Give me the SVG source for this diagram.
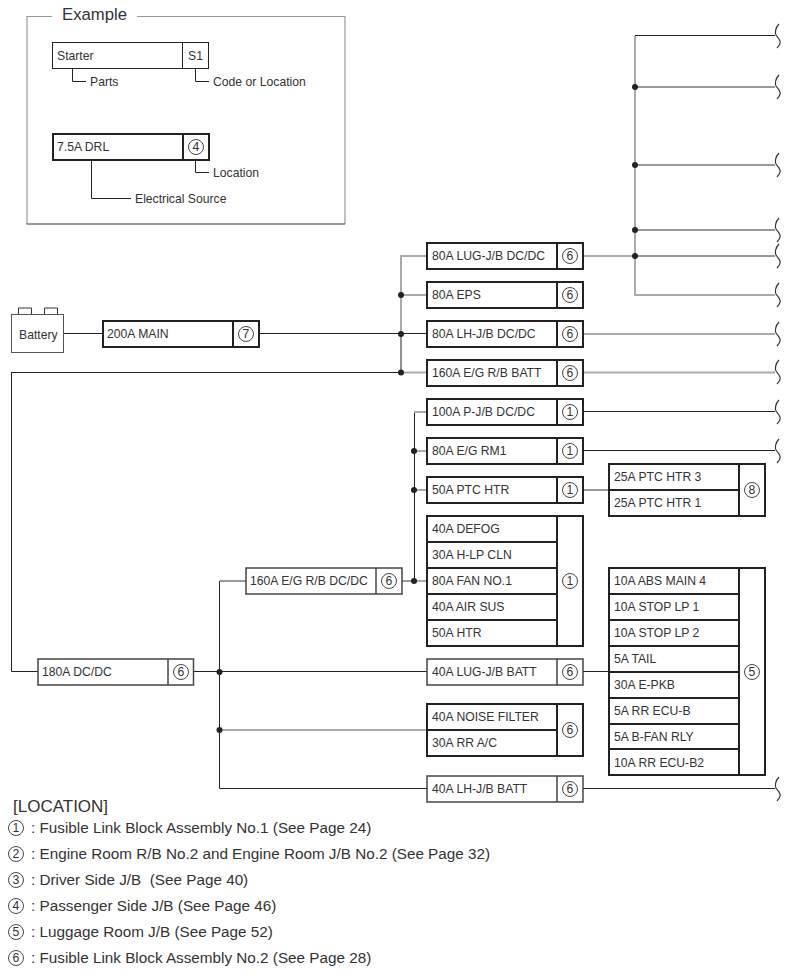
<svg xmlns="http://www.w3.org/2000/svg" width="790" height="976" viewBox="0 0 790 976">
<style>
text{font-family:"Liberation Sans",Arial,sans-serif;font-size:12.2px;fill:#333}
.big{font-size:16.7px}
.leg{font-size:15.27px}
.c{text-anchor:middle}
.b{fill:#fff;stroke:#222;stroke-width:2}
.g{fill:#fff;stroke:#444;stroke-width:1.500}
.dv{stroke:#222;stroke-width:2;fill:none}
.dg{stroke:#444;stroke-width:1.500;fill:none}
.l{fill:none;stroke:#222;stroke-width:1}
.lg{fill:none;stroke:#aaa;stroke-width:2}
.lm{fill:none;stroke:#777;stroke-width:1.500}
.ci{fill:none;stroke:#333;stroke-width:.9}
.w{fill:none;stroke:#333;stroke-width:1.200}
</style>
<defs>
<path id="brk" class="w" d="M2-12C-2-8-2-3-1-1C1 2 4 4 3 7C3 9 1 11 0 12"/>
<circle id="d" r="3" fill="#222"/>
<circle id="o" r="7.500" class="ci"/>
</defs>
<g id="example">
<path d="M52 16.500H27V224M137 16.500H345V224" fill="none" stroke="#999" stroke-width="1.200"/>
<path d="M26.500 224H345" fill="none" stroke="#333" stroke-width="1"/>
<text x="62" y="20" class="big">Example</text>
<rect x="52.500" y="42.500" width="156" height="26" fill="#fff" stroke="#222"/>
<path d="M182.500 42V68" class="l"/>
<text x="57" y="60">Starter</text><text x="188" y="60">S1</text>
<path d="M72.500 68V81.500H86M195.500 68V81.500H209" class="l"/>
<text x="90" y="86">Parts</text><text x="213" y="86">Code or Location</text>
<rect x="53" y="134" width="156" height="26" class="b"/>
<path d="M183 134V160" class="dv"/>
<text x="57" y="151">7.5A DRL</text>
<use href="#o" x="196" y="147"/><text x="196" y="151" class="c">4</text>
<path d="M195.500 160V172.500H209M91.500 160V198.500H131" class="l"/>
<text x="213" y="177">Location</text><text x="135" y="203">Electrical Source</text>
</g>
<g id="connectors">
<path class="l" d="M64 333.500H103M259 333.500H427M11 372.500H401M401 333.500V372.500"/>
<path class="lg" d="M427 256H401V334M401 295H427M401 372.500H427M583 256H635M635 36V295H775M583 334H775M583 372.500H775M219 730H427"/>
<path class="lm" d="M635 87H775M635 165H775M635 230H775M635 256H775M583 490H609M220 581H246M402 581H414"/>
<path class="l" d="M635 35.500H775M583 411.500H775M583 450.500H775M194 671.500H427M583 671.500H609M219.500 581V788.500H427M583 788.500H775"/>
<path class="l" d="M11.500 372.500V671.500H38M414.500 412V581"/>
<path class="lg" d="M414 412H427M414 451H427M414 490H427M414 581H427"/>
<use href="#d" x="635" y="87"/><use href="#d" x="635" y="165"/><use href="#d" x="635" y="230"/><use href="#d" x="635" y="256"/>
<use href="#d" x="401" y="295"/><use href="#d" x="401" y="334"/><use href="#d" x="401" y="372.500"/>
<use href="#d" x="414" y="451"/><use href="#d" x="414" y="490"/><use href="#d" x="414" y="581"/>
<use href="#d" x="219.500" y="672"/><use href="#d" x="219.500" y="730"/>
<use href="#brk" x="777" y="36"/><use href="#brk" x="777" y="87"/><use href="#brk" x="777" y="165"/><use href="#brk" x="777" y="230"/><use href="#brk" x="777" y="256"/><use href="#brk" x="777" y="295"/><use href="#brk" x="777" y="334"/><use href="#brk" x="777" y="372"/><use href="#brk" x="777" y="412"/><use href="#brk" x="777" y="451"/><use href="#brk" x="777" y="789"/>
</g>
<g id="battery">
<path d="M18.500 314V308H31.500V314M44.500 314V308H57.500V314" fill="#fff" stroke="#333"/>
<rect x="11.500" y="314.500" width="52" height="38" fill="#fff" stroke="#555"/>
<text x="19" y="339">Battery</text>
</g>
<g id="main"><rect x="103" y="321" width="156" height="26" class="b"/><path d="M233 321V347" class="dv"/><text x="107" y="338">200A MAIN</text><use href="#o" x="246" y="334"/><text x="246" y="338" class="c">7</text></g>
<g id="lug-dc"><rect x="427" y="243" width="156" height="26" class="b"/><path d="M557 243V269" class="dv"/><text x="432" y="260">80A LUG-J/B DC/DC</text><use href="#o" x="570" y="256"/><text x="570" y="260" class="c">6</text></g>
<g id="eps"><rect x="427" y="282" width="156" height="26" class="b"/><path d="M557 282V308" class="dv"/><text x="432" y="299">80A EPS</text><use href="#o" x="570" y="295"/><text x="570" y="299" class="c">6</text></g>
<g id="lh-dc"><rect x="427" y="321" width="156" height="26" class="b"/><path d="M557 321V347" class="dv"/><text x="432" y="338">80A LH-J/B DC/DC</text><use href="#o" x="570" y="334"/><text x="570" y="338" class="c">6</text></g>
<g id="eg-batt"><rect x="427" y="360" width="156" height="26" class="b"/><path d="M557 360V386" class="dv"/><text x="432" y="377">160A E/G R/B BATT</text><use href="#o" x="570" y="373"/><text x="570" y="377" class="c">6</text></g>
<g id="pjb"><rect x="427" y="399" width="156" height="26" class="b"/><path d="M557 399V425" class="dv"/><text x="432" y="416">100A P-J/B DC/DC</text><use href="#o" x="570" y="412"/><text x="570" y="416" class="c">1</text></g>
<g id="rm1"><rect x="427" y="438" width="156" height="26" class="b"/><path d="M557 438V464" class="dv"/><text x="432" y="455">80A E/G RM1</text><use href="#o" x="570" y="451"/><text x="570" y="455" class="c">1</text></g>
<g id="ptc"><rect x="427" y="477" width="156" height="26" class="b"/><path d="M557 477V503" class="dv"/><text x="432" y="494">50A PTC HTR</text><use href="#o" x="570" y="490"/><text x="570" y="494" class="c">1</text></g>
<g id="ptc-8"><rect x="609" y="464" width="156" height="52" class="b"/><path d="M739 464V516M609 490H739" class="dv"/><text x="614" y="481">25A PTC HTR 3</text><text x="614" y="507">25A PTC HTR 1</text><use href="#o" x="752" y="490"/><text x="752" y="494" class="c">8</text></g>
<g id="group-1"><rect x="427" y="516" width="156" height="130" class="b"/><path d="M557 516V646M427 542H557M427 568H557M427 594H557M427 620H557" class="dv"/><text x="432" y="533">40A DEFOG</text><text x="432" y="559">30A H-LP CLN</text><text x="432" y="585">80A FAN NO.1</text><text x="432" y="611">40A AIR SUS</text><text x="432" y="637">50A HTR</text><use href="#o" x="570" y="581"/><text x="570" y="585" class="c">1</text></g>
<g id="group-5"><rect x="609" y="568" width="156" height="207" class="b"/><path d="M739 568V775M609 594H739M609 620H739M609 646H739M609 672H739M609 698H739M609 724H739M609 749H739" class="dv"/><text x="614" y="585">10A ABS MAIN 4</text><text x="614" y="611">10A STOP LP 1</text><text x="614" y="637">10A STOP LP 2</text><text x="614" y="663">5A TAIL</text><text x="614" y="689">30A E-PKB</text><text x="614" y="715">5A RR ECU-B</text><text x="614" y="741">5A B-FAN RLY</text><text x="614" y="767">10A RR ECU-B2</text><use href="#o" x="752" y="672"/><text x="752" y="676" class="c">5</text></g>
<g id="eg-dc"><rect x="246" y="568" width="156" height="26" class="g"/><path d="M376 568V594" class="dg"/><text x="250" y="585">160A E/G R/B DC/DC</text><use href="#o" x="389" y="581"/><text x="389" y="585" class="c">6</text></g>
<g id="dcdc"><rect x="38" y="659" width="155.500" height="26" class="g"/><path d="M168 659V685" class="dg"/><text x="42" y="676">180A DC/DC</text><use href="#o" x="181" y="672"/><text x="181" y="676" class="c">6</text></g>
<g id="lug-batt"><rect x="427" y="659" width="156" height="26" class="g"/><path d="M557 659V685" class="dg"/><text x="432" y="676">40A LUG-J/B BATT</text><use href="#o" x="570" y="672"/><text x="570" y="676" class="c">6</text></g>
<g id="noise"><rect x="427" y="704" width="156" height="52" class="b"/><path d="M557 704V756M427 730H557" class="dv"/><text x="432" y="721">40A NOISE FILTER</text><text x="432" y="747">30A RR A/C</text><use href="#o" x="570" y="730"/><text x="570" y="734" class="c">6</text></g>
<g id="lh-batt"><rect x="427" y="776" width="156" height="26" class="g"/><path d="M557 776V802" class="dg"/><text x="432" y="793">40A LH-J/B BATT</text><use href="#o" x="570" y="789"/><text x="570" y="793" class="c">6</text></g>
<g id="legend">
<text x="13" y="812" style="font-size:17px">[LOCATION]</text>
<use href="#o" x="16" y="828"/><text x="16" y="832" class="c">1</text><text x="31" y="833" class="leg">: Fusible Link Block Assembly No.1 (See Page 24)</text>
<use href="#o" x="16" y="854"/><text x="16" y="858" class="c">2</text><text x="31" y="859" class="leg">: Engine Room R/B No.2 and Engine Room J/B No.2 (See Page 32)</text>
<use href="#o" x="16" y="880"/><text x="16" y="884" class="c">3</text><text x="31" y="885" class="leg" xml:space="preserve">: Driver Side J/B  (See Page 40)</text>
<use href="#o" x="16" y="906"/><text x="16" y="910" class="c">4</text><text x="31" y="911" class="leg">: Passenger Side J/B (See Page 46)</text>
<use href="#o" x="16" y="932"/><text x="16" y="936" class="c">5</text><text x="31" y="937" class="leg">: Luggage Room J/B (See Page 52)</text>
<use href="#o" x="16" y="958"/><text x="16" y="962" class="c">6</text><text x="31" y="963" class="leg">: Fusible Link Block Assembly No.2 (See Page 28)</text>
</g>
</svg>
